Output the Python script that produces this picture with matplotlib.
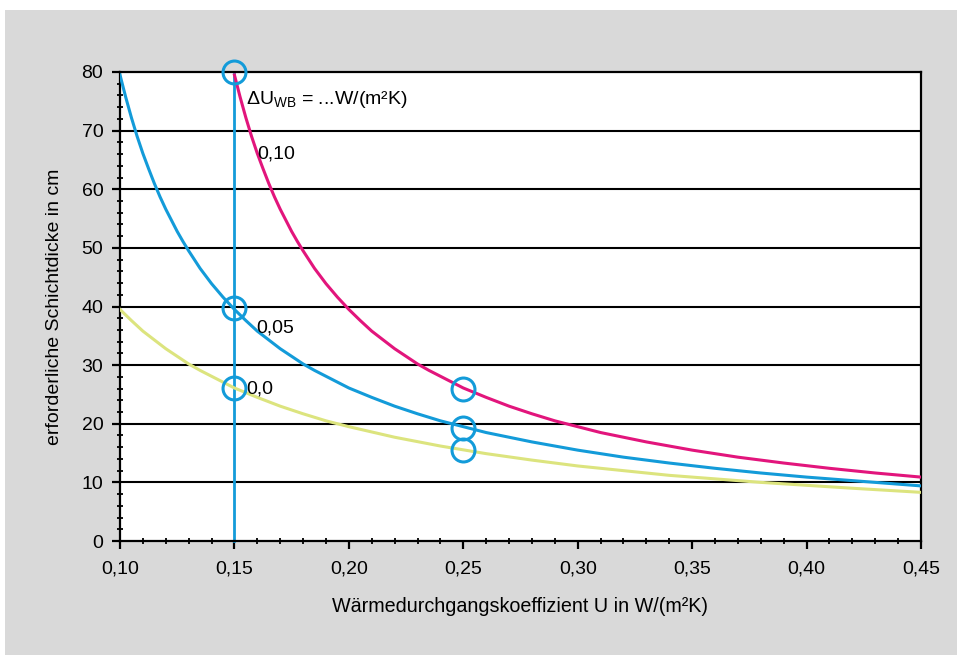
import numpy as np
import matplotlib.pyplot as plt
from matplotlib.patches import Rectangle
from matplotlib.ticker import MultipleLocator, FuncFormatter

plt.rcParams['font.family'] = ['Liberation Sans', 'DejaVu Sans']
plt.rcParams['mathtext.default'] = 'regular'

# U-Wert in W/(m2K) und erforderliche Schichtdicke in cm
u_00 = [0.100, 0.105, 0.110, 0.115, 0.120, 0.125, 0.130, 0.135, 0.140, 0.145,
        0.15, 0.16, 0.17, 0.18, 0.19, 0.20,
        0.22, 0.24, 0.26, 0.28, 0.30, 0.32, 0.34, 0.36, 0.38, 0.40, 0.42, 0.45]
d_00 = [39.5, 37.6, 35.8, 34.3, 32.8, 31.5, 30.2, 29.1, 28.1, 27.1,
        26.1, 24.5, 23.0, 21.7, 20.5, 19.5,
        17.7, 16.2, 14.9, 13.8, 12.8, 12.0, 11.2, 10.6, 10.0, 9.5, 9.0, 8.3]

u_05 = [0.1000, 0.1025, 0.1050, 0.1075, 0.1100, 0.1125, 0.1150, 0.1175,
        0.1200, 0.1225, 0.1250, 0.1275, 0.1300, 0.1325, 0.135, 0.140, 0.145,
        0.150, 0.155, 0.160, 0.165, 0.170, 0.175, 0.180, 0.185, 0.19, 0.20,
        0.21, 0.22, 0.23, 0.24, 0.26, 0.28, 0.30,
        0.32, 0.34, 0.36, 0.38, 0.40, 0.42, 0.45]
d_05 = [79.5, 75.7, 72.2, 69.0, 66.1, 63.5, 61.0, 58.7,
        56.6, 54.7, 52.8, 51.1, 49.5, 48.0, 46.5, 43.9, 41.6,
        39.5, 37.6, 35.8, 34.3, 32.8, 31.5, 30.2, 29.1, 28.1, 26.1,
        24.5, 23.0, 21.7, 20.5, 18.5, 16.9, 15.5,
        14.3, 13.3, 12.4, 11.6, 10.9, 10.3, 9.4]

u_10 = [0.1500, 0.1525, 0.1550, 0.1575, 0.1600, 0.1625, 0.1650, 0.1675,
        0.1700, 0.1725, 0.1750, 0.1775, 0.1800, 0.1825, 0.185, 0.190, 0.195,
        0.200, 0.205, 0.210, 0.215, 0.220, 0.225, 0.230, 0.235, 0.24, 0.25,
        0.26, 0.27, 0.28, 0.29, 0.31, 0.33, 0.35,
        0.37, 0.39, 0.41, 0.43, 0.45]
d_10 = [79.5, 75.7, 72.2, 69.0, 66.1, 63.5, 61.0, 58.7,
        56.6, 54.7, 52.8, 51.1, 49.5, 48.0, 46.5, 43.9, 41.6,
        39.5, 37.6, 35.8, 34.3, 32.8, 31.5, 30.2, 29.1, 28.1, 26.1,
        24.5, 23.0, 21.7, 20.5, 18.5, 16.9, 15.5,
        14.3, 13.3, 12.4, 11.6, 10.9]

# markierte Punkte
kreis_u = [0.15, 0.15, 0.15, 0.25, 0.25, 0.25]
kreis_d = [80, 39.7, 26.1, 25.9, 19.3, 15.5]

blau = '#139bd9'
magenta = '#e2157c'
gelb = '#dce47e'

fig = plt.figure(figsize=(9.57, 6.55), dpi=100)
fig.patch.set_facecolor('white')
fig.patches.append(Rectangle((5/957, 0), 1, 1 - 10/655, transform=fig.transFigure,
                             facecolor='#d9d9d9', edgecolor='none', zorder=-10))

ax = fig.add_axes([120/957, 1 - 541/655, 801/957, 469/655])
ax.set_zorder(1)
ax.set_facecolor('white')
ax.set_xlim(0.10, 0.45)
ax.set_ylim(0, 80)

for y in range(10, 80, 10):
    ax.axhline(y, color='black', lw=1.5, zorder=1)

ax.plot([0.15, 0.15], [0, 80], color=blau, lw=2, zorder=2, clip_on=False)
ax.plot(u_00, d_00, color=gelb, lw=2.2, zorder=3)
ax.plot(u_05, d_05, color=blau, lw=2.2, zorder=3)
ax.plot(u_10, d_10, color=magenta, lw=2.2, zorder=3)
ax.plot(kreis_u, kreis_d, 'o', ms=16.5, mfc='none', mec=blau, mew=2.2,
        zorder=4, clip_on=False)

fs = 14
ax.text(0.1550, 75.3, r'ΔU$_{WB}$ = ...W/(m²K)', fontsize=fs,
        va='center', ha='left')
ax.text(0.1600, 66.0, '0,10', fontsize=fs, va='center')
ax.text(0.1597, 36.3, '0,05', fontsize=fs, va='center')
ax.text(0.1553, 26.0, '0,0', fontsize=fs, va='center')

for s in ax.spines.values():
    s.set_linewidth(1.6)
    s.set_color('black')

ax.xaxis.set_major_locator(MultipleLocator(0.05))
ax.xaxis.set_minor_locator(MultipleLocator(0.01))
ax.yaxis.set_major_locator(MultipleLocator(10))
ax.yaxis.set_minor_locator(MultipleLocator(2))
ax.xaxis.set_major_formatter(FuncFormatter(lambda v, p: f'{v:.2f}'.replace('.', ',')))
ax.tick_params(which='major', direction='out', length=6, width=1.6,
               labelsize=fs, pad=6)
ax.tick_params(which='minor', direction='inout', length=5, width=1.3)
ax.tick_params(axis='x', which='major', pad=8)

ax.set_xlabel('Wärmedurchgangskoeffizient U in W/(m²K)', fontsize=14.2, labelpad=14)
ax.set_ylabel('erforderliche Schichtdicke in cm', fontsize=fs, labelpad=13)

fig.savefig('out.png', dpi=100)
